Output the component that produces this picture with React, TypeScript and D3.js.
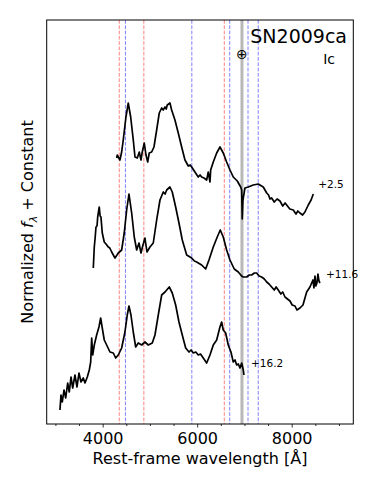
import React from 'react';
import * as d3 from 'd3';

// spectra: [wavelength (Å), normalized flux + constant]
const spec25: [number, number][] = [
  [4286, 2.66], [4298, 2.69], [4355, 2.64], [4391, 2.72], [4425, 2.84], [4482, 3.07], [4531, 3.21],
  [4582, 3.07], [4637, 2.84], [4673, 2.67], [4722, 2.66], [4764, 2.72], [4800, 2.64], [4827, 2.72],
  [4870, 2.81], [4906, 2.69], [4942, 2.62], [4975, 2.71], [5026, 2.72], [5075, 2.77], [5132, 2.94],
  [5187, 3.11], [5238, 3.16], [5270, 3.14], [5308, 3.17], [5335, 3.15], [5356, 3.19], [5413, 3.21],
  [5449, 3.14], [5519, 3.04], [5589, 2.91], [5661, 2.77], [5731, 2.64], [5801, 2.58], [5840, 2.59],
  [5873, 2.57], [5942, 2.52], [6012, 2.47], [6050, 2.49], [6084, 2.47], [6133, 2.46], [6190, 2.44],
  [6224, 2.52], [6260, 2.42], [6275, 2.54], [6330, 2.62], [6402, 2.71], [6472, 2.77], [6541, 2.71],
  [6613, 2.62], [6683, 2.54], [6753, 2.47], [6838, 2.43], [6910, 2.37], [6931, 2.34], [6943, 2.05],
  [6958, 2.24], [7000, 2.36], [7070, 2.37], [7176, 2.39], [7282, 2.40], [7388, 2.37], [7460, 2.31],
  [7500, 2.29], [7530, 2.25], [7565, 2.26], [7620, 2.22], [7680, 2.25], [7741, 2.23], [7800, 2.18],
  [7850, 2.21], [7883, 2.19], [7950, 2.15], [8023, 2.14], [8080, 2.10], [8120, 2.13], [8164, 2.11],
  [8220, 2.09], [8270, 2.12], [8340, 2.19], [8400, 2.24], [8446, 2.30],
];

const spec116: [number, number][] = [
  [3791, 1.56], [3812, 1.77], [3830, 1.86], [3848, 1.97], [3870, 1.98], [3884, 2.07], [3917, 2.17],
  [3935, 2.08], [3953, 2.07], [3981, 1.91], [4023, 1.82], [4060, 1.80], [4108, 1.77], [4140, 1.76],
  [4180, 1.72], [4250, 1.66], [4320, 1.71], [4391, 1.74], [4446, 1.91], [4497, 2.14], [4546, 2.30],
  [4603, 2.11], [4658, 1.87], [4709, 1.74], [4758, 1.81], [4800, 1.71], [4842, 1.79], [4884, 1.86],
  [4927, 1.72], [4990, 1.77], [5060, 1.81], [5132, 2.04], [5202, 2.24], [5272, 2.32], [5310, 2.30],
  [5344, 2.34], [5413, 2.37], [5462, 2.32], [5534, 2.17], [5604, 2.01], [5674, 1.84], [5767, 1.69],
  [5873, 1.66], [5930, 1.63], [5978, 1.62], [6084, 1.59], [6169, 1.55], [6239, 1.64], [6330, 1.77],
  [6414, 1.87], [6478, 1.94], [6541, 1.87], [6613, 1.74], [6683, 1.64], [6774, 1.55], [6859, 1.52],
  [6930, 1.48], [6965, 1.47], [7036, 1.47], [7090, 1.49], [7142, 1.49], [7200, 1.51], [7248, 1.51],
  [7300, 1.48], [7354, 1.47], [7410, 1.45], [7460, 1.42], [7510, 1.40], [7565, 1.37], [7620, 1.34],
  [7660, 1.37], [7705, 1.34], [7760, 1.30], [7800, 1.32], [7847, 1.27], [7900, 1.25], [7953, 1.23],
  [8000, 1.19], [8059, 1.18], [8100, 1.14], [8164, 1.16], [8228, 1.19], [8306, 1.32], [8376, 1.37],
  [8439, 1.44], [8460, 1.36], [8482, 1.48], [8500, 1.38], [8524, 1.41], [8545, 1.50], [8567, 1.43],
  [8588, 1.41],
];

const spec162: [number, number][] = [
  [3086, 0.14], [3107, 0.29], [3135, 0.22], [3171, 0.34], [3207, 0.26], [3249, 0.41], [3283, 0.32],
  [3319, 0.47], [3355, 0.36], [3403, 0.49], [3446, 0.37], [3488, 0.51], [3530, 0.42], [3579, 0.46],
  [3615, 0.41], [3664, 0.47], [3706, 0.54], [3736, 0.62], [3757, 0.86], [3778, 0.69], [3812, 0.79],
  [3862, 0.89], [3911, 0.97], [3947, 1.06], [3981, 0.96], [4023, 0.84], [4074, 0.79], [4144, 0.72],
  [4214, 0.71], [4265, 0.66], [4320, 0.69], [4391, 0.76], [4461, 0.92], [4510, 1.09], [4546, 1.18],
  [4588, 1.09], [4637, 0.92], [4688, 0.77], [4743, 0.81], [4815, 0.79], [4884, 0.82], [4954, 0.79],
  [5039, 0.81], [5096, 0.89], [5166, 1.09], [5238, 1.29], [5308, 1.32], [5399, 1.37], [5462, 1.31],
  [5534, 1.19], [5604, 1.02], [5674, 0.89], [5746, 0.76], [5816, 0.72], [5860, 0.74], [5907, 0.71],
  [5960, 0.72], [6012, 0.69], [6060, 0.70], [6118, 0.66], [6190, 0.61], [6260, 0.69], [6330, 0.79],
  [6402, 0.84], [6471, 0.97], [6507, 1.02], [6541, 0.94], [6592, 0.91], [6647, 0.79], [6704, 0.72],
  [6753, 0.62], [6790, 0.64], [6825, 0.59], [6860, 0.60], [6895, 0.56], [6931, 0.61], [6965, 0.54],
  [6979, 0.49],
];

const spectra = [spec25, spec116, spec162];
const phaseLabels = ['+2.5', '+11.6', '+16.2'];
// where the phase text sits: [wavelength, flux]
const phaseLabelPos: [number, number][] = [[8550, 2.40], [8715, 1.50], [7128, 0.61]];

// line markers
const hLines = [4340, 4861, 6563];
const heLines = [4471, 5876, 6678, 7065, 7281];
const telluric = 6937;

const majorTicks = [4000, 6000, 8000];
const minorTicks = d3.range(3000, 9001, 500);

const W = 374;
const H = 486;
const margin = { top: 20, right: 20.7, bottom: 62, left: 46.7 };

export default function App() {
  const x = d3.scaleLinear().domain([2805, 9293]).range([margin.left, W - margin.right]);
  const y = d3.scaleLinear().domain([0, 4.04]).range([H - margin.bottom, margin.top]);
  const line = d3.line<[number, number]>().x(d => x(d[0])).y(d => y(d[1]));
  const top = margin.top;
  const bottom = H - margin.bottom;
  const font = 'DejaVu Sans, sans-serif';

  return (
    <svg width={W} height={H} style={{ position: 'absolute', left: 0, top: 0, background: '#fff' }} fontFamily={font}>
      {/* telluric band */}
      <line x1={x(telluric)} x2={x(telluric)} y1={top} y2={bottom} stroke="#b8b8b8" strokeWidth={3} />

      {hLines.map(w => (
        <line key={'h' + w} x1={x(w)} x2={x(w)} y1={top} y2={bottom} stroke="#ff8080" strokeWidth={1} strokeDasharray="3.7,1.6" />
      ))}
      {heLines.map(w => (
        <line key={'he' + w} x1={x(w)} x2={x(w)} y1={top} y2={bottom} stroke="#8080ff" strokeWidth={1} strokeDasharray="3.7,1.6" />
      ))}

      {spectra.map((s, i) => (
        <path key={i} d={line(s) || ''} fill="none" stroke="#000" strokeWidth={1.7} strokeLinejoin="round" />
      ))}

      {phaseLabels.map((t, i) => (
        <text key={t} x={x(phaseLabelPos[i][0])} y={y(phaseLabelPos[i][1])} dy="0.35em" fontSize={10.5}>{t}</text>
      ))}

      <text x={x(telluric)} y={54} dy="0.35em" textAnchor="middle" fontSize={14}>⊕</text>
      <text x={347} y={43} textAnchor="end" fontSize={19}>SN2009ca</text>
      <text x={335} y={64} textAnchor="end" fontSize={14}>Ic</text>

      {/* axes frame */}
      <rect x={margin.left} y={top} width={W - margin.right - margin.left} height={bottom - top} fill="none" stroke="#000" strokeWidth={1} />

      {minorTicks.map(t => (
        <line key={'m' + t} x1={x(t)} x2={x(t)} y1={bottom} y2={bottom + (majorTicks.includes(t) ? 3.5 : 2)} stroke="#000" strokeWidth={0.8} />
      ))}
      {majorTicks.map(t => (
        <text key={'l' + t} x={x(t)} y={bottom + 20} textAnchor="middle" fontSize={16}>{t}</text>
      ))}

      <text x={(margin.left + W - margin.right) / 2} y={464} textAnchor="middle" fontSize={16}>Rest-frame wavelength [Å]</text>
      <text transform={`translate(33,${(top + bottom) / 2}) rotate(-90)`} textAnchor="middle" fontSize={16}>
        Normalized <tspan fontStyle="italic">f</tspan><tspan fontStyle="italic" fontSize={11} dy={4}>λ</tspan><tspan dy={-4}>  + Constant</tspan>
      </text>
    </svg>
  );
}
